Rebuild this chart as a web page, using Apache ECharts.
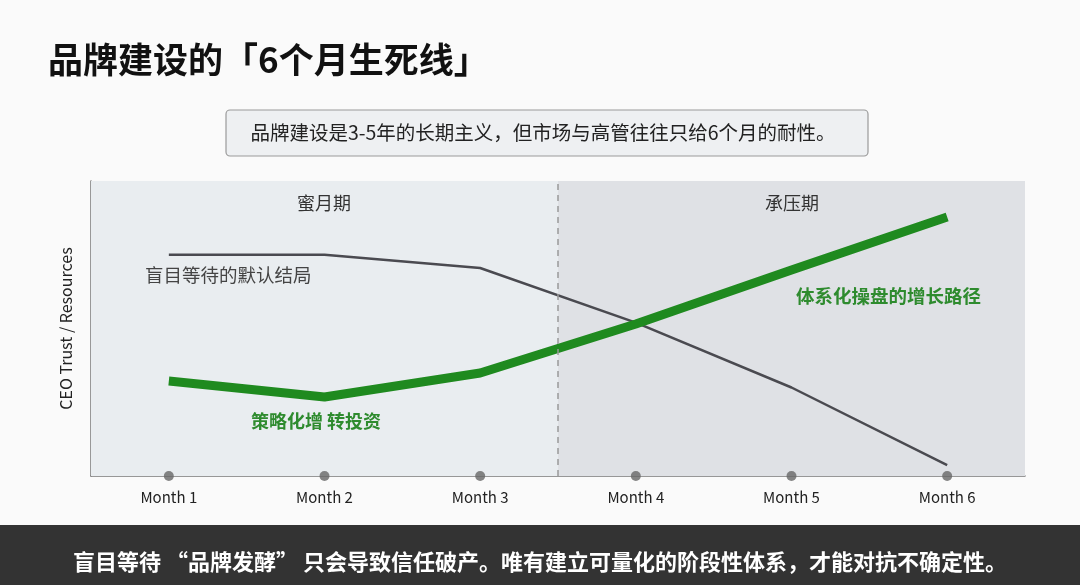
<!DOCTYPE html>
<html><head><meta charset="utf-8">
<script src="https://cdn.jsdelivr.net/npm/echarts@6/dist/echarts.min.js"></script>
<style>html,body{margin:0;padding:0;background:#fafafa}#c{width:1080px;height:585px}</style>
</head><body><div id="c"></div>
<script>
const months = ['Month 1','Month 2','Month 3','Month 4','Month 5','Month 6'];
const blindWait = [75, 75, 70.5, 52, 30, 3.7];
const systemGrowth = [32.2, 26.8, 34.9, 51.5, 69.8, 87.8];
const F = '"Noto Sans CJK SC","Noto Sans",sans-serif';
const chart = echarts.init(document.getElementById('c'));
const xy = a => a.map((v,i)=>[i+1,v]);
chart.setOption({
  backgroundColor:'#fafafa',
  grid:{left:91,right:55,top:181,bottom:109},
  xAxis:[{type:'value',min:0.5,max:6.5,interval:1,splitLine:{show:false},
    axisLine:{lineStyle:{color:'#777',width:1.5}},axisTick:{show:false},axisLabel:{show:false}},
    {type:'category',position:'bottom',data:months,boundaryGap:true,axisLine:{show:false},axisTick:{show:false},
     splitLine:{show:false},axisLabel:{color:'#222',fontSize:15,fontFamily:F,margin:14}}],
  yAxis:{type:'value',min:0,max:100,splitLine:{show:false},axisTick:{show:false},axisLabel:{show:false},
    axisLine:{show:true,lineStyle:{color:'#777',width:1.5}},
    name:'CEO Trust / Resources',nameLocation:'middle',nameGap:17,nameRotate:90,
    nameTextStyle:{fontSize:16,color:'#222',fontFamily:F}},
  series:[
    {type:'line',data:xy(blindWait),symbol:'none',lineStyle:{color:'#4a4a50',width:2.5},z:3,
     markArea:{silent:true,data:[
       [{xAxis:0.5,itemStyle:{color:'#e9edf0'}},{xAxis:3.5}],
       [{xAxis:3.5,itemStyle:{color:'#dfe1e5'}},{xAxis:6.5}]]},
     markLine:{silent:true,symbol:'none',data:[{xAxis:3.5}],label:{show:false},
       lineStyle:{color:'#999',type:[6,5],width:1.5}}},
    {type:'line',data:xy(systemGrowth),symbol:'none',lineStyle:{color:'#1f8a1f',width:9,cap:'butt'},z:4},
    {type:'scatter',data:months.map((m,i)=>[i+1,0]),symbolSize:10,itemStyle:{color:'#666'},clip:false,z:5}
  ],
  graphic:[
    {type:'text',left:48,top:42,style:{text:'品牌建设的「6个月生死线」',font:'bold 35px '+F,fill:'#111'}},
    {type:'rect',shape:{x:226,y:110,width:642,height:46,r:4},style:{fill:'#eef0f2',stroke:'#9a9a9a',lineWidth:1.2}},
    {type:'text',x:543,y:133,style:{text:'品牌建设是3-5年的长期主义，但市场与高管往往只给6个月的耐性。',font:'19.5px '+F,fill:'#222',align:'center',verticalAlign:'middle'}},
    {type:'text',x:324,y:203,z:10,style:{text:'蜜月期',font:'18px '+F,fill:'#333',align:'center',verticalAlign:'middle'}},
    {type:'text',x:792,y:203,z:10,style:{text:'承压期',font:'18px '+F,fill:'#333',align:'center',verticalAlign:'middle'}},
    {type:'text',x:145,y:275,z:10,style:{text:'盲目等待的默认结局',font:'18.5px '+F,fill:'#444',verticalAlign:'middle'}},
    {type:'text',x:251,y:421,z:10,style:{text:'策略化增 转投资',font:'bold 18px '+F,fill:'#2e8b2e',verticalAlign:'middle'}},
    {type:'text',x:796,y:296,z:10,style:{text:'体系化操盘的增长路径',font:'bold 18.5px '+F,fill:'#2e8b2e',verticalAlign:'middle'}},
    {type:'rect',shape:{x:0,y:525,width:1080,height:60},style:{fill:'#333333'}},
    {type:'text',x:540,y:562,style:{text:'盲目等待 “品牌发酵” 只会导致信任破产。唯有建立可量化的阶段性体系，才能对抗不确定性。',font:'bold 22px '+F,fill:'#fff',align:'center',verticalAlign:'middle'}}
  ]
});
</script></body></html>
